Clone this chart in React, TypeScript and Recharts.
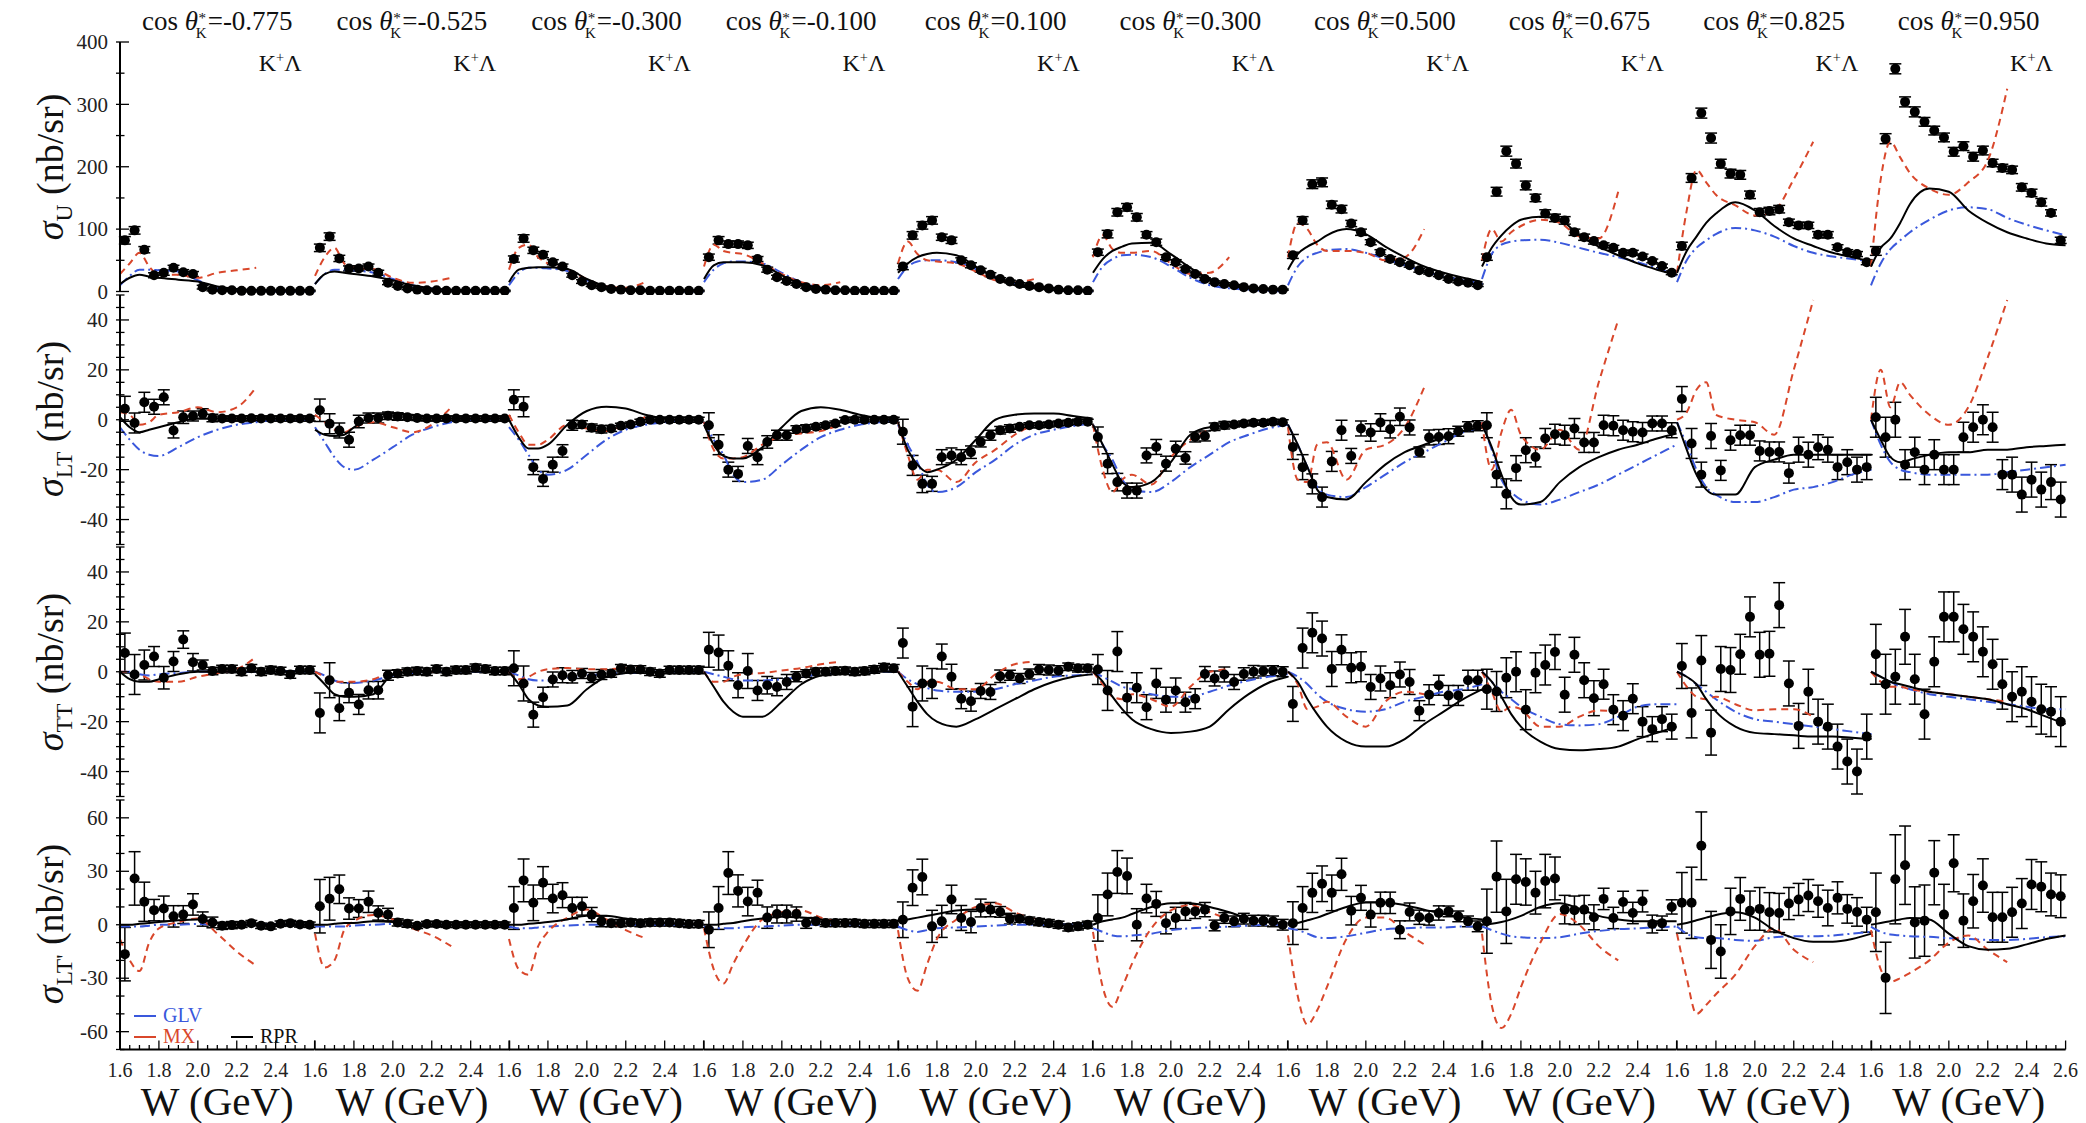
import React from 'react';
import { ComposedChart, Line, Scatter, ErrorBar, XAxis, YAxis } from 'recharts';

const SERIF = '"Liberation Serif", "Times New Roman", Times, serif';
const BLUE = '#3a58dc';
const RED = '#d9472b';

// W bins of the data points (GeV)
const W_BINS = [1.625, 1.675, 1.725, 1.775, 1.825, 1.875, 1.925, 1.975, 2.025, 2.075, 2.125, 2.175, 2.225, 2.275, 2.325, 2.375, 2.425, 2.475, 2.525, 2.575];
const W_MODEL = [1.6, 1.65, 1.7, 1.75, 1.8, 1.9, 2.0, 2.1, 2.2, 2.3, 2.4, 2.5, 2.6];
// MX stops at 2.3 GeV
const W_MX = [1.6, 1.65, 1.7, 1.75, 1.8, 1.9, 2.0, 2.1, 2.2, 2.3];

const COS_BINS = ['-0.775', '-0.525', '-0.300', '-0.100', '0.100', '0.300', '0.500', '0.675', '0.825', '0.950'];

const X_TICKS = [1.6, 1.65, 1.7, 1.75, 1.8, 1.85, 1.9, 1.95, 2.0, 2.05, 2.1, 2.15, 2.2, 2.25, 2.3, 2.35, 2.4, 2.45, 2.5, 2.55, 2.6];
const X_LABELS = [1.6, 1.8, 2.0, 2.2, 2.4, 2.6];

const U_TICKS = [0, 50, 100, 150, 200, 250, 300, 350, 400];
const U_LABELS = [0, 100, 200, 300, 400];
const LT_TICKS = [-50, -45, -40, -35, -30, -25, -20, -15, -10, -5, 0, 5, 10, 15, 20, 25, 30, 35, 40, 45, 50];
const LT_LABELS = [-40, -20, 0, 20, 40];
const LTP_TICKS = [-70, -60, -50, -40, -30, -20, -10, 0, 10, 20, 30, 40, 50, 60, 70];
const LTP_LABELS = [-60, -30, 0, 30, 60];

// ---- sigma_U ----
const sigU = [
  [82, 98, 67, 26, 30, 38, 31, 28, 7, 3, 2, 2, 1, 1, 1, 1, 1, 1, 1, 1],
  [70, 88, 53, 37, 37, 40, 30, 14, 9, 5, 3, 2, 2, 1, 1, 1, 1, 1, 1, 1],
  [52, 85, 66, 59, 47, 40, 26, 16, 10, 7, 4, 3, 2, 2, 1, 1, 1, 1, 1, 1],
  [55, 82, 76, 76, 74, 52, 35, 23, 17, 12, 7, 4, 3, 2, 2, 1, 1, 1, 1, 1],
  [40, 90, 106, 114, 87, 82, 50, 42, 34, 27, 20, 16, 12, 9, 7, 5, 3, 2, 2, 1],
  [63, 92, 127, 135, 119, 91, 79, 55, 47, 36, 28, 20, 15, 12, 10, 7, 5, 4, 3, 3],
  [58, 114, 172, 175, 139, 132, 109, 95, 79, 63, 52, 47, 42, 34, 31, 26, 20, 16, 14, 10],
  [55, 160, 225, 205, 170, 150, 125, 118, 114, 95, 87, 81, 74, 70, 62, 62, 56, 49, 41, 30],
  [73, 182, 286, 246, 205, 189, 187, 155, 127, 129, 132, 111, 106, 106, 91, 91, 71, 63, 60, 47],
  [65, 245, 357, 304, 288, 272, 258, 247, 224, 233, 216, 226, 206, 198, 195, 167, 158, 143, 126, 82],
];
const sigUErr = [
  [6, 6, 5, 4, 4, 4, 4, 4, 3, 2, 1, 1, 1, 1, 1, 1, 1, 1, 1, 1],
  [6, 6, 5, 4, 4, 4, 4, 3, 2, 2, 1, 1, 1, 1, 1, 1, 1, 1, 1, 1],
  [5, 6, 5, 5, 4, 4, 3, 3, 2, 2, 1, 1, 1, 1, 1, 1, 1, 1, 1, 1],
  [5, 6, 5, 5, 5, 4, 4, 3, 3, 2, 2, 1, 1, 1, 1, 1, 1, 1, 1, 1],
  [5, 6, 6, 6, 5, 5, 4, 4, 3, 3, 2, 2, 2, 1, 1, 1, 1, 1, 1, 1],
  [5, 6, 6, 6, 6, 5, 5, 4, 4, 3, 3, 2, 2, 2, 1, 1, 1, 1, 1, 1],
  [5, 6, 7, 7, 6, 6, 5, 5, 4, 4, 4, 3, 3, 3, 3, 2, 2, 2, 2, 2],
  [5, 7, 8, 7, 7, 6, 6, 6, 6, 5, 5, 5, 4, 4, 4, 4, 4, 3, 3, 3],
  [6, 7, 8, 8, 7, 7, 7, 6, 6, 6, 6, 5, 5, 5, 5, 5, 4, 4, 4, 4],
  [7, 8, 8, 8, 8, 7, 7, 7, 7, 7, 7, 7, 6, 6, 6, 6, 6, 6, 5, 5],
];
const sigU_GLV = [
  [10, 25, 35, 35, 34, 32, 18, 5, 2, 1, 0, 0, 0],
  [12, 28, 35, 35, 34, 30, 20, 10, 5, 2, 1, 0, 0],
  [10, 30, 38, 38, 37, 33, 18, 8, 4, 2, 1, 0, 0],
  [15, 35, 45, 48, 48, 45, 30, 15, 6, 3, 1, 0, 0],
  [20, 40, 48, 50, 50, 47, 36, 22, 12, 6, 3, 1, 0],
  [15, 40, 52, 58, 59, 55, 40, 22, 10, 5, 3, 1, 0],
  [10, 40, 55, 62, 66, 68, 62, 52, 42, 32, 24, 18, 12],
  [20, 60, 75, 80, 82, 83, 78, 70, 62, 55, 47, 37, 25],
  [15, 50, 70, 82, 92, 102, 98, 88, 73, 62, 56, 52, 48],
  [10, 45, 68, 82, 95, 115, 130, 135, 132, 118, 107, 98, 90],
];
const sigU_MX = [
  [28, 45, 62, 40, 27, 27, 22, 30, 34, 38],
  [25, 55, 70, 45, 38, 36, 22, 14, 16, 22],
  [35, 70, 75, 55, 45, 35, 20, 8, 6, 15],
  [40, 75, 65, 62, 60, 45, 28, 15, 10, 15],
  [45, 80, 60, 50, 48, 45, 32, 18, 15, 20],
  [55, 90, 68, 62, 62, 65, 45, 28, 30, 55],
  [55, 110, 100, 75, 65, 65, 62, 50, 55, 100],
  [50, 100, 80, 95, 105, 115, 110, 88, 85, 160],
  [30, 130, 195, 175, 155, 138, 122, 130, 180, 240],
  [40, 180, 240, 215, 190, 165, 155, 175, 210, 325],
];
const sigU_RPR = [
  [12, 22, 27, 24, 22, 19, 16, 8, 4, 2, 1, 1, 1],
  [12, 28, 32, 30, 28, 24, 18, 10, 5, 3, 2, 1, 1],
  [15, 35, 38, 39, 39, 36, 20, 8, 4, 2, 1, 1, 1],
  [20, 42, 47, 47, 47, 42, 26, 12, 6, 3, 2, 1, 1],
  [30, 45, 55, 60, 62, 58, 40, 22, 10, 5, 2, 1, 1],
  [30, 52, 65, 72, 77, 78, 60, 38, 20, 10, 5, 3, 2],
  [35, 60, 72, 80, 90, 100, 92, 72, 55, 40, 30, 22, 15],
  [40, 70, 90, 105, 115, 120, 115, 90, 72, 58, 45, 35, 27],
  [30, 65, 88, 110, 125, 143, 130, 105, 85, 73, 62, 55, 48],
  [40, 70, 85, 110, 140, 165, 160, 130, 110, 95, 85, 77, 74],
];

// ---- sigma_LT ----
const sigLT = [
  [4.4, -1.3, 7, 5.2, 9, -4.3, 1, 1.5, 2.4, 0.7, 0.5, 0.5, 0.5, 0.6, 0.5, 0.5, 0.5, 0.5, 0.5, 0.5],
  [3.8, -1.6, -4.3, -8, -0.7, 0.7, 0.7, 1.6, 1.3, 1, 0.7, 0.5, 0.5, 0.5, 0.5, 0.5, 0.5, 0.5, 0.5, 0.5],
  [8, 5.2, -19, -23.7, -18, -12.5, -2.2, -1.9, -3.2, -3.8, -3.5, -2.4, -1.9, -0.8, 0, 0, 0, 0, 0, 0],
  [-2.2, -10, -20, -21.7, -10.5, -15, -8.9, -6.2, -6.2, -3.9, -3.5, -2.8, -2.2, -1.5, -0.1, 0, 0, 0, 0, 0],
  [-4.8, -18.3, -25.7, -25.7, -15, -14.3, -15, -13, -8.9, -6.2, -4.2, -3.5, -2.8, -2.2, -2.2, -1.9, -1.5, -1.2, -0.8, -0.8],
  [-6.9, -17.6, -25, -28.4, -28.4, -14.3, -10.9, -17.6, -11.6, -15.3, -6.9, -6.5, -2.8, -2.2, -1.9, -1.5, -1.2, -1.2, -0.8, -1],
  [-10.9, -19, -25.7, -31, -16.7, -4.2, -14.5, -3.5, -5.1, -1.1, -3.8, 1.2, -3.1, -12.9, -7.1, -6.9, -6.6, -4.6, -2.8, -2.4],
  [-2.2, -22, -29.7, -19.4, -12.2, -14.9, -7.5, -5.8, -6.2, -3.5, -9.1, -9.1, -2.2, -2.4, -4.2, -4.8, -5.1, -1.5, -1.5, -4.2],
  [8.3, -9.5, -22, -6.5, -20.3, -8.2, -6.2, -6.2, -12.5, -12.9, -12.9, -21.4, -12, -14, -11, -12, -19, -17, -20, -19],
  [1, -7, 0, -18, -13, -20, -14, -20, -20, -7, -3, 0, -3, -22, -22, -30, -24, -28, -25, -32],
];
const sigLTErr = [
  [5, 4, 4, 3, 3, 3, 2.5, 2, 2, 1.5, 1, 1, 1, 1, 1, 1, 1, 1, 1, 1],
  [4.5, 4, 3, 3, 2.5, 2, 2, 1.5, 1.5, 1, 1, 1, 1, 1, 1, 1, 1, 1, 1, 1],
  [4, 4, 3, 3, 3, 2.5, 2, 1.5, 1.5, 1.5, 1.2, 1, 1, 1, 1, 1, 1, 1, 1, 1],
  [5, 4, 3, 3, 3, 3, 2.5, 2, 2, 1.5, 1.5, 1, 1, 1, 1, 1, 1, 1, 1, 1],
  [5, 4, 3.5, 3, 3, 3, 3, 2.5, 2, 2, 1.5, 1.5, 1, 1, 1, 1, 1, 1, 1, 1],
  [4, 4, 3.5, 3, 3, 3, 3, 3, 3, 2.5, 2, 2, 1.5, 1.5, 1, 1, 1, 1, 1, 1],
  [5, 5, 4, 4, 4, 4, 3, 3, 3.5, 3.5, 3.5, 3.5, 3, 2, 3, 3, 3, 2, 2, 2],
  [5, 5, 6, 5, 5, 4, 4, 4, 4, 4, 4, 4, 4, 4, 4, 4, 4, 3, 3, 3],
  [5, 6, 5, 5, 4, 4, 4, 4, 4, 4, 4, 4, 5, 5, 5, 5, 5, 5, 5, 5],
  [8, 8, 7, 6, 6, 6, 6, 6, 6, 6, 6, 6, 6, 6, 7, 7, 7, 7, 7, 7],
];
const sigLT_GLV = [
  [-3, -8, -12, -14, -14.5, -11, -7, -4, -2, -1, 0, 0, 0],
  [-3, -9, -15, -19, -20, -16, -11, -6, -3, -1, 0, 0, 0],
  [-3, -8, -14, -20, -22, -20, -14, -8, -4, -2, -1, 0, 0],
  [-1, -8, -14, -22, -25, -24, -18, -12, -7, -4, -2, -1, 0],
  [-2, -10, -17, -26, -29, -27, -21, -16, -10, -6, -4, -2.5, -1.5],
  [-2, -10, -16, -24, -28, -29, -25, -19, -14, -9, -6, -3.5, -2],
  [-2, -10, -19, -27, -30, -31, -27, -22, -17, -13, -9, -5, -3],
  [-1, -12, -24, -29, -32, -34, -32, -29, -26, -22, -18, -14, -10],
  [-1, -10, -20, -27, -30, -33, -33, -31, -28, -27, -25, -22, -20],
  [0, -10, -17, -20, -21, -22, -22, -22, -22, -21, -20, -19, -18],
];
const sigLT_MX = [
  [3, 2, -2, -1, 2, 3, 5, 3, 5, 13],
  [2, -1, -4, -5, -3, -1, -3, -5, -2, 5],
  [2, -5, -10, -10, -8, -2, -3.5, -4.5, -2, 1],
  [-1, -12, -15.5, -15.5, -15, -10, -6.5, -5.5, -4.5, -2],
  [-1, -14, -24, -20, -20, -25, -17, -12, -6, -2],
  [-2, -20, -29, -24, -22, -26, -15, -8, -4, -2],
  [-3, -24, -25, -10, -9, -24, -12, -10, -3, 13],
  [-1, -20, -5, 4, -6, -12, -4, -12, 15, 40],
  [0, 3, 12, 15, 2, 0, -1, -6, 20, 48],
  [0, 20, 5, 15, 10, 2, -2, 5, 25, 48],
];
const sigLT_RPR = [
  [1, -3, -5, -4, -3, -1, 0.5, 0.5, 0.5, 0.5, 0.5, 0.5, 0.5],
  [-4, -6, -6.5, -6, -3, 1.5, 2.5, 2, 1, 0.5, 0.5, 0.5, 0.5],
  [0, -7, -11.5, -11.5, -10, -2, 3.5, 5.2, 4.5, 2, 0.5, 0, 0],
  [-2, -10, -14.5, -15.5, -15.5, -11, -3, 3.5, 5, 4, 2, 0.5, 0],
  [-1, -12, -18, -21, -20, -16, -8, 0, 2, 2.5, 2.5, 1.5, 0.5],
  [-2, -10, -18, -25, -27, -25, -17, -6, -3, -2.5, -2, -1.5, -1.5],
  [-2, -10, -19, -28, -31, -32, -25, -18, -13, -10, -7, -4.5, -3],
  [-2, -11, -22, -31, -34, -33, -25, -19, -15, -12, -10, -7.5, -5.5],
  [-1, -12, -22, -28, -30, -30, -19, -16, -14, -14, -14, -14, -14],
  [0, -8, -15, -17, -16, -14, -13, -13, -12, -12, -11, -10.5, -10],
];

// ---- sigma_TT ----
const sigTT = [
  [7.5, -1.1, 2.7, 6.1, -2.4, 4.1, 12.9, 3.8, 2.7, 0.3, 1.1, 1.1, 0, 1.4, 0, 0.7, 0.3, -1.1, 0.7, 0.7],
  [-16.5, -3.4, -14.6, -8.4, -13.1, -7.4, -7.4, -1.4, -0.7, 0, 0.3, 0, 1.1, 0, 0.7, 0.7, 1.6, 1.1, 0.3, 0.3],
  [1.4, -4.7, -17.2, -10.2, -3.1, -1.4, -2, -0.7, -2.3, -1.1, -0.7, 1.4, 0.9, 0.9, 0, -0.7, 0.7, 0.7, 0.7, 0.7],
  [8.8, 7.7, 2.4, -5.4, 0.3, -7.5, -5.4, -6.1, -4.1, -2, -0.7, 0, 0, 0.3, 0.4, 0, 0.3, 0.9, 1.8, 1.4],
  [11.5, -14, -4.7, -4.7, 6.1, -2, -10.8, -11.8, -7.7, -8.1, -1.8, -1.4, -2.7, -0.9, 0.9, 0.7, 0.4, 2, 1.4, 1.4],
  [0.9, -7.5, 8.1, -10.4, -6.4, -14.2, -4.7, -11.2, -7.5, -12.2, -10.8, -0.9, -2.7, -1.1, -4.1, -0.9, 0, 0.3, 0.4, 0],
  [-12.9, 9.5, 15.6, 13.3, 1.1, 8.8, 1.6, 2, -6.1, -2.7, -5.4, -1.1, -4.1, -15.6, -9.2, -5.4, -9.5, -9.5, -3.4, -3.4],
  [-7, -7.9, -2.4, 0, -15.2, -0.4, 2.7, 7.9, -9.2, 6.8, -3.4, -10.6, -5, -15.2, -17.6, -10.8, -20, -23, -19, -22],
  [2.3, -16.5, 4.5, -24.4, 1.1, 0.7, 7, 22, 6.8, 7.2, 26.7, -4.7, -21.7, -8, -20, -22, -30, -36, -40, -26],
  [7, -5, -2, 14, -3, -17, 4, 22, 22, 17, 14, 8, 3, -5, -10, -8, -12, -15, -16, -20],
];
const sigTTErr = [
  [8, 8, 6, 4, 4.5, 4, 3.5, 3.5, 2, 1.5, 1.5, 1.5, 1.5, 1.5, 1.5, 1.5, 1.5, 1.5, 1.5, 1.5],
  [8, 7, 5, 4, 4, 3.5, 3.5, 2, 1.5, 1.5, 1.5, 1.5, 1.5, 1.5, 1.5, 1.5, 1.5, 1.5, 1.5, 1.5],
  [7, 7, 5, 4, 3, 3, 2.5, 2, 2, 2, 1.5, 1.5, 1.5, 1.5, 1.5, 1.5, 1.5, 1.5, 1.5, 1.5],
  [7, 7, 6, 5, 7, 4, 3.5, 3.5, 3, 2, 1.5, 1.5, 1.5, 1.5, 1.5, 1.5, 1.5, 1.5, 1.5, 1.5],
  [6, 8, 7, 6, 5, 5, 4, 4, 3, 3, 2.5, 2, 2, 2, 2, 2, 2, 1.5, 1.5, 1.5],
  [6, 8, 8, 6, 6, 5, 6, 5, 5, 4, 4, 3, 3, 3, 3, 2.5, 2.5, 2, 2, 2],
  [7, 8, 8, 7, 7, 6, 6, 6, 5, 5, 5, 5, 5, 4, 4, 4, 4, 4, 4, 4],
  [8, 8, 8, 8, 8, 8, 8, 7, 7, 7, 7, 7, 6, 6, 6, 6, 6, 5, 5, 5],
  [9, 10, 10, 9, 9, 9, 8, 8, 9, 9, 9, 9, 9, 9, 9, 9, 9, 9, 9, 9],
  [12, 12, 11, 11, 10, 10, 10, 10, 10, 10, 10, 10, 10, 10, 10, 10, 10, 10, 10, 10],
];
const sigTT_GLV = [
  [0, 0, -1, -1.5, -1, -0.5, 0, 0, 0, 0, 0, 0, 0],
  [0, -1.5, -3.5, -4.5, -4.5, -3.5, -1.5, -0.5, 0, 0, 0, 0, 0],
  [0, -1.5, -3, -3.5, -3.5, -2.5, -1.5, -1, -0.5, 0, 0, 0, 0],
  [0, -1, -2, -3, -3.5, -3.5, -3, -2, -1, -0.5, 0, 0, 0],
  [0, -3, -5, -6.5, -7.5, -8, -8, -7, -5, -3.5, -2, -1.5, -1],
  [0, -2, -4, -6, -7, -9, -10, -10, -8, -5.5, -3.5, -2, -1],
  [0, -2, -5, -9, -12, -15, -16, -15, -12, -10, -8, -7, -5],
  [0, -4, -8, -11, -14, -18, -21, -21.5, -21, -18, -14, -13, -13],
  [0, -2, -5, -8, -11, -16, -19, -20, -21, -22, -23, -24, -25],
  [0, -2, -4, -6, -7, -9, -10, -11, -12, -13, -14, -15, -15],
];
const sigTT_MX = [
  [0, 0, -1, -3, -4, -4, -2, -0.5, 1, 6],
  [0, -2, -4, -4, -4, -3, 0, 0.5, 0, -0.5],
  [0, -3, -2, 0, 1, 1.5, 1, 1, 1.5, 2],
  [0, -4, -4, -2, -1, -0.5, 0.5, 1.5, 3, 4],
  [0, -4, -7, -4, -4, -7, -7, -1, 3, 4],
  [0, -5, -10, -11, -9, -11, -14, -6, 0, 1],
  [0, -5, -15, -14, -12, -18, -22, -12, -8, -9],
  [0, -8, -16, -14, -15, -22, -22, -18, -15.5, -16],
  [0, -6, -10, -11, -10, -13, -15.5, -15, -15, -18],
  [0, -4, -6, -6, -7, -8, -9, -10, -11, -12],
];
const sigTT_RPR = [
  [0, -3, -4, -4, -3, -1, 0, 0, 0, 0, 0, 0, 0],
  [-1, -5, -9, -10, -10, -9, -1, 0, 0, 0, 0, 0, 0],
  [0, -5, -11, -13.5, -14, -13.5, -7, -2, -0.5, 0, 0, 0, 0],
  [0, -6, -12, -16, -18, -18, -12, -5, -1.5, -0.5, 0, 0, 0],
  [0, -6, -12, -17, -20, -22, -19, -15, -11, -7, -4, -2, -1],
  [0, -4, -10, -15, -19, -23, -24.5, -24, -22, -15, -9, -4.5, -2],
  [0, -4, -11, -17, -22, -28, -30, -30, -27, -21, -16, -11, -7],
  [0, -4, -10, -17, -22, -28, -31, -31.5, -31, -30, -27, -24.5, -22],
  [0, -2, -5, -11, -16, -22, -24.5, -25, -25.5, -26, -26, -26.5, -27],
  [0, -2, -4, -5, -6, -8, -9, -10, -11, -13, -15, -18, -21],
];

// ---- sigma_LT' ----
const sigLTp = [
  [-16.5, 26, 12.9, 8.2, 9.1, 4.7, 5.7, 11.4, 3.2, 1.3, -0.6, -0.2, 0, 0.9, -0.6, -0.9, 0.6, 0.9, 0.2, 0],
  [10.4, 14.6, 19.9, 9.1, 9.1, 12.9, 6.6, 5.7, 1.3, 0.6, -0.6, 0.4, 0.4, 0, 0, 0, 0, 0, 0, 0],
  [9.4, 24.9, 12.3, 23.6, 14.7, 16.6, 9.4, 10.4, 5.7, 1.9, 0.9, 0.9, 1.3, 0.9, 1.3, 1.3, 1.3, 0.9, 0.4, 0.4],
  [-2.8, 9.4, 29, 19, 13, 18, 4, 6, 6, 6, 1, 2, 1, 1, 1, 1, 0.5, 0.5, 0.5, 0.5],
  [2.8, 20.8, 26.8, -0.9, 1.9, 14.2, 3.8, 1.5, 9.4, 8.5, 7.2, 3.4, 3.4, 2.3, 1.5, 0.9, 0, -1.5, -0.9, 0],
  [3.8, 17, 29.6, 27.4, 0, 14.7, 11.7, 0.9, 3.8, 7.5, 7.5, 8.5, -0.4, 3.8, 1.9, 3.4, 2.3, 2.3, 1.9, 0],
  [0.9, 9.4, 17.9, 23, 17.9, 28.3, 7.9, 15.1, 5.7, 12.3, 12.3, -2.8, 7.2, 4.2, 3.8, 6.6, 7.5, 4.7, 1.9, -0.9],
  [2, 27, 7.5, 25.5, 24, 18, 24.5, 26, 8.5, 8.1, 8.5, 4.2, 14.5, 3.8, 12.8, 6.6, 13.2, 0.4, 0.9, 10],
  [12.3, 12.3, 44.3, -8.5, -15, 7.5, 14.5, 7.9, 8.9, 7, 6.6, 11.9, 14.2, 16.4, 13.2, 9.4, 15.1, 8.9, 7.2, 2.8],
  [7, -29.8, 25.5, 33.4, 1.3, 2.3, 29.2, 5.7, 34.5, 2.3, 13.2, 22, 4.2, 4.2, 7, 11.9, 22.6, 21.3, 17, 16],
];
const sigLTpErr = [
  [15, 15, 11, 6, 7, 6, 5, 6, 4, 3, 2, 2, 1.5, 1.5, 1.5, 1.5, 1.5, 1.5, 1.5, 1.5],
  [15, 12, 8, 6, 5, 6, 4, 3.5, 2, 2, 1.5, 1.5, 1.5, 1.5, 1.5, 1.5, 1.5, 1.5, 1.5, 1.5],
  [12, 12, 10, 9, 8, 7, 6, 5, 4, 3, 2, 2, 2, 2, 2, 2, 2, 2, 2, 2],
  [10, 12, 12, 9, 8, 7, 6, 5, 5, 4, 3, 2, 2, 2, 2, 2, 2, 2, 2, 2],
  [10, 10, 10, 9, 9, 8, 7, 6, 5, 4, 3, 3, 2, 2, 2, 2, 2, 2, 2, 2],
  [13, 12, 12, 10, 9, 8, 7, 6, 6, 5, 4, 4, 3, 3, 3, 3, 3, 3, 3, 3],
  [12, 12, 11, 10, 10, 9, 8, 7, 7, 6, 6, 5, 5, 4, 4, 4, 3, 3, 3, 3],
  [18, 20, 18, 14, 13, 12, 15, 12, 8, 8, 8, 7, 6, 6, 6, 6, 6, 5, 4, 4],
  [17, 20, 19, 16, 15, 13, 12, 11, 12, 11, 11, 9, 9, 9, 9, 10, 9, 8, 8, 7],
  [22, 20, 25, 22, 20, 20, 18, 17, 16, 15, 15, 15, 14, 14, 14, 14, 14, 14, 12, 12],
];
const sigLTp_GLV = [
  [-1, -1, -1, -0.5, 0, 0, 0.5, 0, 0, 0, 0, 0, 0],
  [-1, -1, -1, -1, -0.5, 0, 0.5, 0, 0, 0, 0, 0, 0],
  [-1, -2, -2, -1.5, -1, -0.5, 0, 0, 0, 0, 0, 0, 0],
  [-1, -2, -2, -2, -1.5, -1, -0.5, 0, 0, 0, 0, 0, 0],
  [-1, -3, -4, -3, -2, -1.5, -1, -0.5, 0, 0, 0, 0, 0],
  [-2, -4, -6, -6.5, -6, -5, -3, -2, -1.5, -1, -0.5, 0, 0],
  [-2, -3, -5, -7, -7.5, -6.5, -4.5, -2.5, -2, -1.5, -1.5, -1, -1],
  [-1, -3, -5, -6.5, -7, -7.5, -7, -5, -3.5, -2.5, -2, -1.5, -1],
  [-1, -5, -7, -7.5, -7.5, -8.5, -9, -7, -6.5, -6.5, -6, -5, -4],
  [-1, -4, -5.5, -6, -6.5, -6.8, -7.5, -8, -8.5, -8.5, -8, -7, -6.5],
];
const sigLTp_MX = [
  [-8, -20, -26, -10, -2, 1.5, 3.5, -5, -15, -23],
  [-5, -24, -20, -3, 2, 5.5, 3, -2, -6, -12],
  [-8, -25, -28, -12, -4, 4, 8.5, 3, -3, -7.5],
  [-2, -25, -33, -22, -12, 3, 7, 8, 4, 1],
  [-3, -30, -37, -22, -8, 3, 10, 12, 7, 3],
  [-4, -35, -46, -35, -22, -2, 8, 11, 7, 3],
  [-6, -40, -56, -48, -35, -8, 4, 4, -4, -11],
  [-5, -45, -58, -50, -35, -10, 6, 0, -12, -20],
  [-5, -30, -50, -45, -39, -28, -12, -2, -14, -21],
  [-3, -25, -32, -30, -27, -20, -10, -6, -14, -21],
];
const sigLTp_RPR = [
  [0, 0, 0.5, 1, 1.5, 2.5, 3, 1, 0, 0, 0, 0, 0],
  [0, 0, 0.5, 1, 1, 2, 1.5, -0.5, 0, 0, 0, 0, 0],
  [0, 0, 0.5, 1, 1.5, 3, 5, 5, 3.5, 2, 1, 0.5, 0],
  [0, 0, 0.5, 1, 2, 3.5, 4.5, 4, 3, 1.5, 0.5, 0, -0.5],
  [2, 3, 4, 5, 6, 8, 8.5, 7, 4.5, 2, 0, -0.5, -1],
  [0, 2, 3, 4, 6, 10, 12, 12, 10, 7, 3.5, 1.5, 1],
  [0, 1, 2.5, 4, 6, 10, 12.5, 12.5, 11, 8.5, 6, 4, 3],
  [0, 0.5, 1.5, 3, 5, 10, 12, 9, 5, 3, 2, 2, 2],
  [0, 1, 2.5, 4, 5.5, 7, 4, -3, -7.5, -9.5, -9.5, -8, -5],
  [0, 1, 2, 3, 3.8, 3, -5, -12, -14, -13.5, -11, -8, -6],
];

// layout of the grid (px)
const PLOT_LEFT = 120;
const COL_W = 194.6;
const ROW_TOP = 42;
const ROW_STEP = 252.5;
const ROW_H = 249.5;

type RowDef = {
  sub: string;
  domain: [number, number];
  ticks: number[];
  labels: number[];
  pts: number[][];
  err: number[][];
  glv: number[][];
  mx: number[][];
  rpr: number[][];
};

const ROWS: RowDef[] = [
  { sub: 'U', domain: [0, 400], ticks: U_TICKS, labels: U_LABELS, pts: sigU, err: sigUErr, glv: sigU_GLV, mx: sigU_MX, rpr: sigU_RPR },
  { sub: 'LT', domain: [-50, 50], ticks: LT_TICKS, labels: LT_LABELS, pts: sigLT, err: sigLTErr, glv: sigLT_GLV, mx: sigLT_MX, rpr: sigLT_RPR },
  { sub: 'TT', domain: [-50, 50], ticks: LT_TICKS, labels: LT_LABELS, pts: sigTT, err: sigTTErr, glv: sigTT_GLV, mx: sigTT_MX, rpr: sigTT_RPR },
  { sub: "LT'", domain: [-70, 70], ticks: LTP_TICKS, labels: LTP_LABELS, pts: sigLTp, err: sigLTpErr, glv: sigLTp_GLV, mx: sigLTp_MX, rpr: sigLTp_RPR },
];

const AXIS_LINE = { stroke: '#000', strokeWidth: 2 };
const near = (list: number[], v: number) => list.some(m => Math.abs(m - v) < 1e-6);

function tickFn(side: string, majors: number[], labelIf: ((v: number) => boolean) | null, outward: boolean) {
  return (p: any) => {
    const { x, y, payload } = p;
    const v = payload.value;
    const major = near(majors, v);
    const len = major ? 9 : 4.5;
    let ln;
    if (side === 'left') ln = <line x1={x - (outward ? 4 : 0)} y1={y} x2={x + len} y2={y} />;
    else if (side === 'right') ln = <line x1={x} y1={y} x2={x - len} y2={y} />;
    else if (side === 'top') ln = <line x1={x} y1={y} x2={x} y2={y + len} />;
    else ln = <line x1={x} y1={y} x2={x} y2={y - len} />;
    const showLabel = labelIf && major && labelIf(v);
    return (
      <g>
        <g stroke="#000" strokeWidth={1.3}>{ln}</g>
        {showLabel && side === 'left' && (
          <text x={x - 12} y={y} dy="0.34em" textAnchor="end" fontSize={21} fill="#222" fontFamily={SERIF}>{String(v)}</text>
        )}
        {showLabel && side === 'bottom' && (
          <text x={x} y={y + 28} textAnchor="middle" fontSize={20} fill="#222" fontFamily={SERIF}>{v.toFixed(1)}</text>
        )}
      </g>
    );
  };
}

const dot = (p: any) => <circle cx={p.cx} cy={p.cy} r={5} fill="#000" />;

function Panel({ row, col }: { row: number; col: number }) {
  const r = ROWS[row];
  const x0 = PLOT_LEFT + col * COL_W;
  const y0 = ROW_TOP + row * ROW_STEP;
  const leftW = col === 0 ? 64 : 0;
  const botH = row === 3 ? 34 : 0;
  // extra room so that edge labels are not cut by the svg
  const padX = row === 3 ? 18 : 3;
  const padY = col === 0 ? 14 : 3;
  const points = W_BINS.map((w, i) => ({ w, y: r.pts[col][i], err: r.err[col][i] }));
  const glv = W_MODEL.map((w, i) => ({ w, y: r.glv[col][i] }));
  const mx = W_MX.map((w, i) => ({ w, y: r.mx[col][i] }));
  const rpr = W_MODEL.map((w, i) => ({ w, y: r.rpr[col][i] }));
  const xLabelIf = row === 3 ? (v: number) => col === 9 || v < 2.55 : null;
  return (
    <div style={{ position: 'absolute', left: x0 - leftW - padX, top: y0 - padY }}>
      <ComposedChart
        width={COL_W + leftW + 2 * padX}
        height={ROW_H + botH + 2 * padY}
        margin={{ top: padY, right: padX, bottom: padY, left: padX }}
      >
        <XAxis xAxisId="b" dataKey="w" type="number" domain={[1.6, 2.6]} ticks={X_TICKS} interval={0}
          orientation="bottom" height={botH} axisLine={AXIS_LINE} tickLine={false} tickSize={0} tickMargin={0}
          tick={tickFn('bottom', X_LABELS, xLabelIf, false)} />
        <XAxis xAxisId="t" dataKey="w" type="number" domain={[1.6, 2.6]} ticks={X_TICKS} interval={0}
          orientation="top" height={0} axisLine={AXIS_LINE} tickLine={false} tickSize={0} tickMargin={0}
          tick={tickFn('top', X_LABELS, null, false)} />
        <YAxis yAxisId="l" dataKey="y" type="number" domain={r.domain} ticks={r.ticks} interval={0}
          orientation="left" width={leftW} axisLine={AXIS_LINE} tickLine={false} tickSize={0} tickMargin={0}
          tick={tickFn('left', r.labels, col === 0 ? () => true : null, col === 0)} />
        <YAxis yAxisId="r" dataKey="y" type="number" domain={r.domain} ticks={r.ticks} interval={0}
          orientation="right" width={0} axisLine={AXIS_LINE} tickLine={false} tickSize={0} tickMargin={0}
          tick={tickFn('right', r.labels, null, false)} />
        <Scatter xAxisId="b" yAxisId="l" data={points} dataKey="y" shape={dot} isAnimationActive={false}>
          <ErrorBar dataKey="err" direction="y" width={6} stroke="#000" strokeWidth={1.5} isAnimationActive={false} />
        </Scatter>
        <Line xAxisId="b" yAxisId="l" data={glv} dataKey="y" type="monotone" stroke={BLUE} strokeWidth={2}
          strokeDasharray="10 4 2 4" dot={false} activeDot={false} isAnimationActive={false} />
        <Line xAxisId="b" yAxisId="l" data={mx} dataKey="y" type="monotone" stroke={RED} strokeWidth={2}
          strokeDasharray="7 5" dot={false} activeDot={false} isAnimationActive={false} />
        <Line xAxisId="b" yAxisId="l" data={rpr} dataKey="y" type="monotone" stroke="#000" strokeWidth={2}
          dot={false} activeDot={false} isAnimationActive={false} />
      </ComposedChart>
    </div>
  );
}

function Title({ col }: { col: number }) {
  return (
    <div style={{ position: 'absolute', left: PLOT_LEFT + col * COL_W, width: COL_W, top: 4, height: 36,
      textAlign: 'center', fontSize: 27, lineHeight: '34px', whiteSpace: 'nowrap', color: '#111' }}>
      cos <i>θ</i>
      <span style={{ display: 'inline-flex', flexDirection: 'column', fontSize: '0.56em', lineHeight: '1em',
        verticalAlign: '0.45em', margin: '0 1px 0 0' }}>
        <span>*</span><span style={{ marginLeft: '-0.15em' }}>K</span>
      </span>
      ={COS_BINS[col]}
    </div>
  );
}

export default function App() {
  const cols = COS_BINS.map((_, i) => i);
  return (
    <div style={{ position: 'absolute', left: 0, top: 0, width: 2086, height: 1123, background: '#fff',
      overflow: 'hidden', fontFamily: SERIF }}>
      {cols.map(c => <Title key={'t' + c} col={c} />)}
      {ROWS.map((r, ri) => cols.map(c => <Panel key={ri + '-' + c} row={ri} col={c} />))}
      {cols.map(c => (
        <div key={'k' + c} style={{ position: 'absolute', left: PLOT_LEFT + c * COL_W, width: COL_W - 13, top: 44,
          textAlign: 'right', fontSize: 24, lineHeight: '26px', color: '#111' }}>
          K<sup style={{ fontSize: '0.6em' }}>+</sup>Λ
        </div>
      ))}
      {ROWS.map((r, ri) => (
        <div key={'y' + ri} style={{ position: 'absolute', left: 53, top: ROW_TOP + ri * ROW_STEP + ROW_H / 2,
          transform: 'translate(-50%, -50%) rotate(-90deg)', whiteSpace: 'nowrap', fontSize: 38, color: '#111' }}>
          <i>σ</i><sub style={{ fontSize: '0.62em' }}>{r.sub}</sub> (nb/sr)
        </div>
      ))}
      {cols.map(c => (
        <div key={'w' + c} style={{ position: 'absolute', left: PLOT_LEFT + c * COL_W, width: COL_W, top: 1083,
          textAlign: 'center', fontSize: 41, lineHeight: '36px', whiteSpace: 'nowrap', color: '#111' }}>
          W (GeV)
        </div>
      ))}
      <div style={{ position: 'absolute', left: 134, top: 1005, fontSize: 20, lineHeight: '21px' }}>
        <div style={{ color: BLUE, display: 'flex', alignItems: 'center' }}>
          <span style={{ width: 22, borderTop: `2px solid ${BLUE}`, marginRight: 7 }} />GLV
        </div>
        <div style={{ display: 'flex', alignItems: 'center' }}>
          <span style={{ width: 22, borderTop: `2px solid ${RED}`, marginRight: 7 }} />
          <span style={{ color: RED, width: 68 }}>MX</span>
          <span style={{ width: 22, borderTop: '2px solid #000', marginRight: 7 }} />
          <span style={{ color: '#111' }}>RPR</span>
        </div>
      </div>
    </div>
  );
}
